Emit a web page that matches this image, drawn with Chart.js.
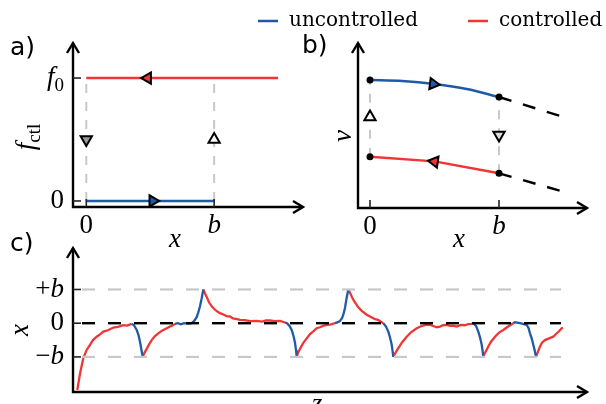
<!DOCTYPE html>
<html>
<head>
<meta charset="utf-8">
<script src="https://cdn.jsdelivr.net/npm/chart.js@4.4.1/dist/chart.umd.min.js"></script>
<style>
  body { margin: 0; background: #fff; }
  #wrap { position: relative; width: 606px; height: 404px; }
  canvas { position: absolute; left: 0; top: 0; }
</style>
</head>
<body>
<div id="wrap">
  <canvas id="chart_a" width="606" height="404"></canvas>
  <canvas id="chart_b" width="606" height="404"></canvas>
  <canvas id="chart_c" width="606" height="404"></canvas>
</div>
<script>
// ---- data ----
let series_names = ['uncontrolled', 'controlled']

// a) control force vs position (x in units of b, f in units of f0)
let a_on_x = [0, 1.5]
let a_on_f = [1, 1]
let a_off_x = [0, 1]
let a_off_f = [0, 0]
let a_switch_x = [0, 0, null, 1, 1]
let a_switch_f = [0, 1, null, 0, 1]
let a_mark_x = [0.48, 0.52, 0, 1]
let a_mark_f = [1, 0, 0.5, 0.5]

// b) speed vs position
let b_off_x = [0, 0.25, 0.5, 0.75, 1]
let b_off_v = [1.28, 1.27, 1.24, 1.19, 1.11]
let b_on_x = [0, 0.5, 1]
let b_on_v = [0.513, 0.466, 0.347]
let b_ext_x = [1, 1.5, null, 1, 1.5]
let b_ext_v = [1.11, 0.91, null, 0.347, 0.163]
let b_switch_x = [0, 0, null, 1, 1]
let b_switch_v = [0.513, 1.28, null, 0.347, 1.11]
let b_dot_x = [0, 1, 0, 1]
let b_dot_v = [1.28, 1.11, 0.513, 0.347]
let b_mark_x = [0.49, 0.5, 0, 1]
let b_mark_v = [1.24, 0.463, 0.91, 0.73]

// c) trajectory x(z), x in units of b
let c_red_z = [4.3, 7, 10.3, 13.5, 17, 20, 23.7, 27, 30.3, 35, 40.3, 45, 50.3, 54, 58.7, null,
  69.7, 71.5, 73.7, 76, 78.7, 82, 85.3, 89, 93.7, 97, 100, 102, null,
  130.3, 132, 133.7, 136, 138.7, 142, 145, 147, 151, 154, 157, 160, 164, 167, 172, 177, 183.7, 189, 193, 197, 202, 207, 212, null,
  223.7, 225, 227, 230, 233.7, 237, 240.3, 243.7, 247, 250, 253.7, 257, 262, null,
  275.3, 277, 278.7, 281, 285.3, 289, 293.7, 297, 302, 305, 308.7, 310.3, null,
  320.3, 322, 325.3, 329, 333.7, 338, 343.7, 348, 353.7, 357, 361, 363.7, 367, 370, 373.7, 377, 380, 383.7, 388, 392, 395, 398.7, 400.3, null,
  410.3, 412, 415.3, 418, 422, 426, 430.3, 434, 437, 440.3, null,
  463, 464.5, 467, 469, 472, 476, 480.3, 483, 486, 488.7, 490]
let c_red_x = [-1.98, -1.5, -1.04, -0.8, -0.64, -0.5, -0.4, -0.33, -0.25, -0.21, -0.13, -0.11, -0.06, -0.07, -0.02, null,
  -1.0, -0.88, -0.76, -0.63, -0.5, -0.38, -0.3, -0.22, -0.15, -0.1, -0.06, -0.02, null,
  1.0, 0.88, 0.78, 0.62, 0.5, 0.4, 0.33, 0.3, 0.25, 0.2, 0.2, 0.14, 0.12, 0.1, 0.09, 0.06, 0.07, 0.05, 0.08, 0.08, 0.06, 0.07, 0.02, null,
  -1.0, -0.88, -0.76, -0.6, -0.45, -0.32, -0.24, -0.15, -0.12, -0.08, -0.05, -0.04, 0, null,
  1.0, 0.9, 0.79, 0.66, 0.47, 0.36, 0.25, 0.2, 0.12, 0.1, 0.03, 0, null,
  -1.0, -0.9, -0.74, -0.57, -0.4, -0.27, -0.15, -0.09, -0.04, -0.05, -0.09, -0.12, -0.1, -0.06, -0.05, -0.08, -0.07, -0.1, -0.05, -0.06, -0.03, -0.02, 0, null,
  -1.0, -0.88, -0.69, -0.55, -0.4, -0.28, -0.2, -0.12, -0.06, 0, null,
  -1.0, -0.88, -0.69, -0.58, -0.5, -0.45, -0.4, -0.32, -0.24, -0.15, -0.14]
let c_blue_z = [58.7, 61, 63.7, 65.5, 67, 68.5, 69.7, null,
  102, 105, 108, 111, 115, 118.7, 121, 123.7, 125.3, 127, 128.7, 130.3, null,
  212, 214, 216.5, 218.7, 220.5, 222, 223, 223.7, null,
  262, 265, 267, 269, 270.3, 272, 273, 274.3, 275.3, null,
  310.3, 313, 315.3, 317, 318.7, 319.7, 320.3, null,
  400.3, 403, 405.3, 407, 408.7, 409.7, 410.3, null,
  440.3, 442, 444, 447, 450, 453.7, 455.5, 457, 458.7, 460.3, 461.8, 463]
let c_blue_x = [-0.02, -0.06, -0.2, -0.35, -0.55, -0.8, -1.0, null,
  -0.02, 0, -0.03, 0, -0.01, 0, 0.06, 0.18, 0.32, 0.5, 0.74, 1.0, null,
  0.02, 0, -0.08, -0.2, -0.38, -0.58, -0.8, -1.0, null,
  0, 0.03, 0.07, 0.15, 0.25, 0.45, 0.64, 0.85, 1.0, null,
  0, -0.1, -0.25, -0.42, -0.64, -0.85, -1.0, null,
  0, -0.08, -0.25, -0.42, -0.64, -0.84, -1.0, null,
  0, 0.03, 0.02, 0, -0.02, -0.05, -0.14, -0.3, -0.45, -0.64, -0.82, -1.0]
let c_levels = [1, 0, -1]
let c_level_z = [9, 488]

// ---- styling ----
const BLUE = '#1f5aa8'
const RED = '#f03535'
const GREY = '#c8c8c8'
const MATH = '"Liberation Serif", "DejaVu Serif", serif'
const SANS = '"DejaVu Sans", sans-serif'
const SIZE = 27

function it(t) { return { t: t, it: true } }
function rm(t) { return { t: t } }
function sub(t) { return { t: t, sub: true } }
function sans(t) { return { t: t, sans: true } }

function pts(xs, ys) {
  return xs.map((v, i) => ({ x: v === null ? xs[i - 1] : v, y: ys[i] }))
}

function fontOf(p) {
  if (p.sans) return '25px ' + SANS
  let s = p.sub ? Math.round(SIZE * 0.7) : SIZE
  return (p.it ? 'italic ' : '') + s + 'px ' + MATH
}

function drawParts(ctx, parts, x, y, align, rot) {
  ctx.save()
  ctx.translate(x, y)
  if (rot) ctx.rotate(rot)
  let widths = []
  let w = 0
  parts.forEach(p => { ctx.font = fontOf(p); let pw = ctx.measureText(p.t).width; widths.push(pw); w += pw })
  let cx = align == 'right' ? -w : align == 'left' ? 0 : -w / 2
  ctx.textBaseline = 'middle'
  ctx.textAlign = 'left'
  ctx.fillStyle = '#000'
  parts.forEach((p, i) => {
    ctx.font = fontOf(p)
    ctx.fillText(p.t, cx, p.sub ? SIZE * 0.28 : 0)
    cx += widths[i]
  })
  ctx.restore()
}

// axes with arrow heads, inward ticks, labels
const decor = {
  id: 'decor',
  afterDraw(chart, args, o) {
    const ctx = chart.ctx, a = chart.chartArea
    const sx = chart.scales.x, sy = chart.scales.y
    ctx.save()
    ctx.strokeStyle = '#000'
    ctx.lineWidth = 2.4
    ctx.beginPath()
    ctx.moveTo(a.left, a.top); ctx.lineTo(a.left, a.bottom); ctx.lineTo(a.right, a.bottom)
    ctx.stroke()
    ctx.beginPath()
    ctx.moveTo(a.left - 6, a.top + 10); ctx.lineTo(a.left, a.top); ctx.lineTo(a.left + 6, a.top + 10)
    ctx.moveTo(a.right - 10, a.bottom - 6); ctx.lineTo(a.right, a.bottom); ctx.lineTo(a.right - 10, a.bottom + 6)
    ctx.stroke()

    ctx.strokeStyle = '#222'
    ctx.lineWidth = 1.6
    ;(o.yTicks || []).forEach(t => {
      let py = sy.getPixelForValue(t.v)
      ctx.beginPath(); ctx.moveTo(a.left, py); ctx.lineTo(a.left + 8, py); ctx.stroke()
      drawParts(ctx, t.parts, a.left - 9, py, 'right')
    })
    ;(o.xTicks || []).forEach(t => {
      let px = sx.getPixelForValue(t.v)
      ctx.beginPath(); ctx.moveTo(px, a.bottom); ctx.lineTo(px, a.bottom - 8); ctx.stroke()
      drawParts(ctx, t.parts, px, a.bottom + 19, 'center')
    })
    ;(o.texts || []).forEach(t => drawParts(ctx, t.parts, t.x, t.y, t.align || 'center', t.rot))
    ;(o.legend || []).forEach(l => {
      ctx.strokeStyle = l.color
      ctx.lineWidth = 2.5
      ctx.beginPath(); ctx.moveTo(l.x, l.y); ctx.lineTo(l.x + 20, l.y); ctx.stroke()
      ctx.font = '20px "DejaVu Serif", serif'
      ctx.fillStyle = '#000'
      ctx.textBaseline = 'middle'
      ctx.textAlign = 'left'
      ctx.fillText(l.label, l.x + 31, l.y)
    })
    ctx.restore()
  }
}

function options(pad, xr, yr, deco) {
  return {
    responsive: false,
    animation: false,
    layout: { padding: pad },
    plugins: { legend: { display: false }, tooltip: { enabled: false }, decor: deco },
    scales: {
      x: { type: 'linear', min: xr[0], max: xr[1], display: false },
      y: { type: 'linear', min: yr[0], max: yr[1], display: false }
    },
    elements: { point: { radius: 0 }, line: { tension: 0 } }
  }
}

function marker(xs, ys, fills, rots) {
  return {
    data: pts(xs, ys), showLine: false, pointStyle: 'triangle', pointRadius: 6.5,
    pointBackgroundColor: fills, pointBorderColor: '#000', pointBorderWidth: 2,
    pointRotation: rots
  }
}

// ---- a) ----
new Chart(document.getElementById('chart_a').getContext('2d'), {
  type: 'line',
  data: {
    datasets: [
      marker(a_mark_x, a_mark_f, [RED, BLUE, '#999', '#fff'], [270, 90, 180, 0]),
      { data: pts(a_on_x, a_on_f), borderColor: RED, borderWidth: 2.4 },
      { data: pts(a_off_x, a_off_f), borderColor: BLUE, borderWidth: 2.4 },
      { data: pts(a_switch_x, a_switch_f), borderColor: GREY, borderWidth: 2, borderDash: [9, 9], spanGaps: false }
    ]
  },
  options: options({ left: 73, right: 303, top: 43, bottom: 197 }, [-0.104, 1.695], [-0.049, 1.285], {
    yTicks: [{ v: 1, parts: [it('f'), sub('0')] }, { v: 0, parts: [rm('0')] }],
    xTicks: [{ v: 0, parts: [rm('0')] }, { v: 1, parts: [it('b')] }],
    texts: [
      { x: 175, y: 240, parts: [it('x')] },
      { x: 27, y: 137, parts: [it('f'), sub('ctl')], rot: -Math.PI / 2 },
      { x: 10, y: 48, parts: [sans('a)')], align: 'left' }
    ]
  }),
  plugins: [decor]
})

// ---- b) ----
new Chart(document.getElementById('chart_b').getContext('2d'), {
  type: 'line',
  data: {
    datasets: [
      marker(b_mark_x, b_mark_v, [BLUE, RED, '#fff', '#ddd'], [97, 278, 0, 180]),
      { data: pts(b_dot_x, b_dot_v), showLine: false, pointRadius: 3.5, pointBackgroundColor: '#000', pointBorderWidth: 0 },
      { data: pts(b_off_x, b_off_v), borderColor: BLUE, borderWidth: 2.4, tension: 0.4, cubicInterpolationMode: 'monotone' },
      { data: pts(b_on_x, b_on_v), borderColor: RED, borderWidth: 2.4 },
      { data: pts(b_ext_x, b_ext_v), borderColor: '#000', borderWidth: 2.4, borderDash: [13, 12], spanGaps: false },
      { data: pts(b_switch_x, b_switch_v), borderColor: GREY, borderWidth: 2, borderDash: [9, 9], spanGaps: false }
    ]
  },
  options: options({ left: 358, right: 19, top: 43, bottom: 196 }, [-0.093, 1.682], [0, 1.65], {
    xTicks: [{ v: 0, parts: [rm('0')] }, { v: 1, parts: [it('b')] }],
    texts: [
      { x: 459, y: 240, parts: [it('x')] },
      { x: 344, y: 136, parts: [it('v')], rot: -Math.PI / 2 },
      { x: 302, y: 46, parts: [sans('b)')], align: 'left' }
    ],
    legend: [
      { label: series_names[0], color: BLUE, x: 258, y: 21 },
      { label: series_names[1], color: RED, x: 468, y: 21 }
    ]
  }),
  plugins: [decor]
})

// ---- c) ----
let level_sets = c_levels.map(v => ({
  data: pts(c_level_z, [v, v]),
  borderColor: v == 0 ? '#000' : GREY,
  borderWidth: v == 0 ? 2.4 : 2.2,
  borderDash: [13, 13]
}))
new Chart(document.getElementById('chart_c').getContext('2d'), {
  type: 'line',
  data: {
    datasets: level_sets.concat([
      { data: pts(c_blue_z, c_blue_x), borderColor: BLUE, borderWidth: 2.3, spanGaps: false },
      { data: pts(c_red_z, c_red_x), borderColor: RED, borderWidth: 2.3, spanGaps: false }
    ])
  },
  options: options({ left: 73, right: 19, top: 248, bottom: 12 }, [0, 514], [-2.04, 2.23], {
    yTicks: [
      { v: 1, parts: [rm('+'), it('b')] },
      { v: 0, parts: [rm('0')] },
      { v: -1, parts: [rm('\u2212'), it('b')] }
    ],
    texts: [
      { x: 317, y: 405, parts: [it('z')] },
      { x: 21, y: 330, parts: [it('x')], rot: -Math.PI / 2 },
      { x: 10, y: 244, parts: [sans('c)')], align: 'left' }
    ]
  }),
  plugins: [decor]
})
</script>
</body>
</html>
